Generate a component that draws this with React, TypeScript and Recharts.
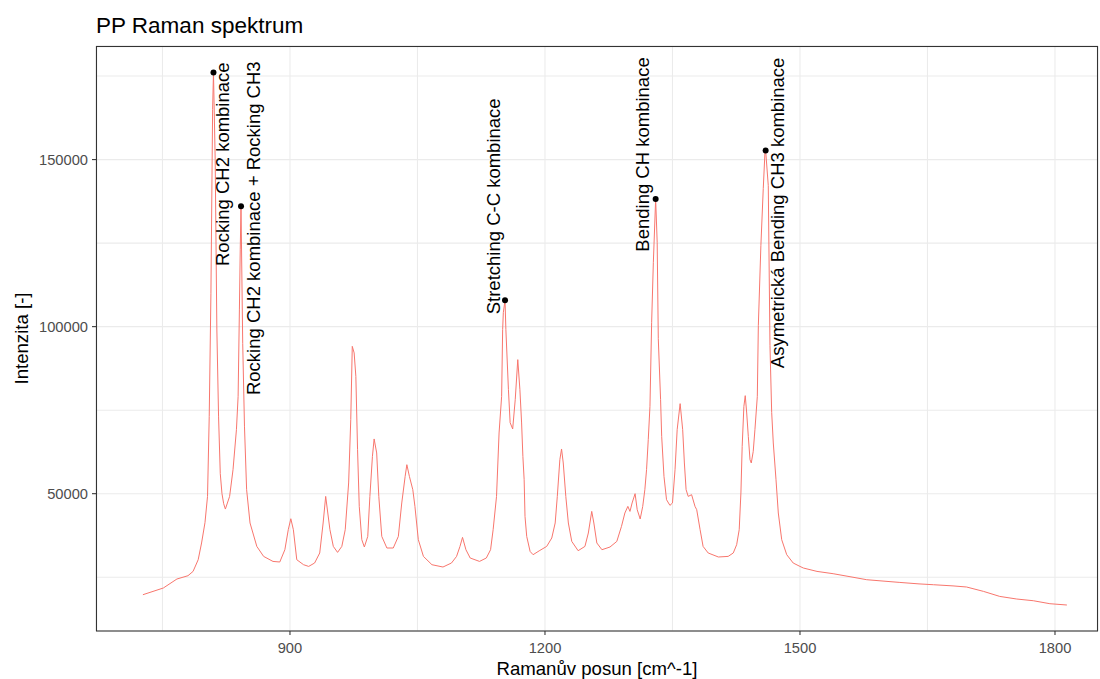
import { ComposedChart, Line, Scatter, XAxis, YAxis, CartesianGrid } from 'recharts'

// spectrum (Raman shift cm^-1 / intensity)
const shift = [
  727, 751, 767, 780, 786, 792, 796, 800, 803, 805, 807, 809, 810, 812, 814, 816, 818, 820, 822, 824,
  829, 833, 837, 839, 840.5, 841.5, 842.4, 844.4, 846.5, 849, 853, 861, 869, 880, 888, 894, 898, 901,
  904, 908, 916, 922, 929, 935, 939, 942, 947, 951, 956, 961, 965, 969, 971.5, 973.3, 975.5, 977.5,
  979.5, 981.5, 984.5, 987.5, 991.5, 994, 997, 999, 1002, 1004.5, 1008, 1014, 1021.5, 1027.5, 1031.5,
  1035.5, 1037.5, 1040.5, 1044.5, 1047, 1051, 1057, 1067, 1080, 1090, 1096, 1100, 1103, 1107, 1112,
  1123, 1131, 1136, 1139, 1143, 1146, 1149, 1150.2, 1151, 1153, 1154, 1157, 1159, 1162, 1165, 1168,
  1170.5, 1172.5, 1174, 1175.5, 1176.5, 1178.5, 1182.5, 1186, 1194, 1202, 1208, 1212, 1214.5, 1217.5,
  1219.5, 1221.5, 1224.5, 1227.5, 1231.5, 1239, 1247, 1251, 1255, 1257.5, 1261, 1267, 1276.5, 1284.5,
  1290, 1294, 1297.5, 1300, 1302.5, 1306, 1308.5, 1312, 1315, 1317.5, 1319.5, 1321.5, 1323.5, 1325.5,
  1327.5, 1330.2, 1332, 1333.3, 1336, 1337.3, 1340, 1343, 1347, 1350, 1353, 1355.5, 1359, 1362, 1364,
  1366, 1368.5, 1372.5, 1376.5, 1378.5, 1382.5, 1386, 1392, 1404, 1415.5, 1421.5, 1425.5, 1428.5,
  1430.5, 1432, 1434, 1435.6, 1437.3, 1439.2, 1441.2, 1442.7, 1445, 1447, 1449.8, 1451, 1454, 1456.8,
  1458.8, 1459.6, 1462.7, 1464.7, 1466.7, 1468.6, 1471.8, 1474.5, 1478.5, 1484.4, 1492, 1500, 1504,
  1520, 1539, 1560, 1578.5, 1600, 1617.5, 1640, 1657, 1680, 1696, 1716, 1735, 1755, 1774.5, 1794, 1814,
]
const intensity = [
  19760, 21770, 24460, 25450, 26740, 30240, 35240, 41320, 49190, 73140, 110000, 165000, 176100, 150000,
  99000, 73000, 56000, 50000, 47000, 45400, 49190, 57190, 69160, 79130, 105000, 123000, 136000, 95000,
  70000, 51200, 41230, 34220, 31230, 29730, 29550, 33230, 39220, 42500, 39220, 30240, 28740, 28230,
  29250, 32250, 41230, 49190, 39220, 34220, 32430, 34220, 39220, 53200, 72160, 94100, 92130, 85120,
  63170, 46200, 36230, 34040, 37220, 49190, 61170, 66380, 62190, 49190, 37220, 33740, 33740, 37220,
  47220, 55180, 58680, 55180, 51200, 46200, 36230, 31230, 28740, 28050, 29250, 31230, 34220, 36920,
  33230, 30750, 29730, 30750, 33230, 39220, 49190, 68170, 79130, 99100, 104190, 107870, 99100, 81140,
  71260, 69370, 78140, 90120, 81140, 71170, 61170, 54190, 43200, 37220, 32720, 31740, 33020, 34220,
  36740, 41230, 49190, 60180, 63380, 59190, 49190, 41230, 35720, 32930, 34220, 38230, 44700, 41230,
  35240, 33230, 34040, 35720, 40210, 44220, 46200, 44700, 47220, 50000, 45210, 42430, 46200, 51200,
  57190, 66170, 76140, 101290, 119250, 138230, 125240, 96410, 78140, 67160, 55180, 48200, 46500, 47220,
  57190, 69160, 76950, 69160, 59190, 51200, 49190, 49700, 46200, 45210, 39220, 34220, 32250, 31050,
  31230, 32250, 34730, 39220, 50210, 64160, 76140, 79340, 74160, 67160, 60180, 59190, 62660, 69160,
  79130, 100300, 124250, 141320, 152190, 152690, 142220, 94310, 74340, 65180, 54190, 44220, 36230,
  31740, 29250, 28230, 27750, 26740, 26050, 25100, 24250, 23800, 23440, 23000, 22750, 22400, 22070,
  20750, 19250, 18470, 17960, 17070, 16680,
]

// labelled peaks
const peakShift = [810, 842.4, 1153, 1330.2, 1459.6]
const peakIntensity = [176100, 136000, 107870, 138230, 152690]
const peakLabels = [
  'Rocking CH2 kombinace',
  'Rocking CH2 kombinace + Rocking CH3',
  'Stretching C-C kombinace',
  'Bending CH kombinace',
  'Asymetrická Bending CH3 kombinace',
]

const xMajor = [900, 1200, 1500, 1800]
const xMinor = [750, 1050, 1350, 1650]
const yMajor = [50000, 100000, 150000]
const yMinor = [25000, 75000, 125000, 175000]

// label placement relative to the peak point, in px
const labelDx = [16, 18.5, -5.5, -7, 18.5]
const labelDy = [-10, -145, -202, -141.6, -93]

const FONT = '"Liberation Sans", Arial, sans-serif'
const TICK_SIZE = 4
const TICK_MARGIN_X = 8
const TICK_MARGIN_Y = 4

const spectrum = shift.map((x, i) => ({ x, y: intensity[i] }))
const peaks = peakShift.map((x, i) => ({ x, y: peakIntensity[i], i }))
const xTicks = [...xMajor, ...xMinor].sort((a, b) => a - b)
const yTicks = [...yMajor, ...yMinor].sort((a, b) => a - b)

function XTick({ x, y, payload }: any) {
  if (!xMajor.includes(payload.value)) return null
  return (
    <g>
      <line x1={x} x2={x} y1={y - TICK_MARGIN_X - TICK_SIZE} y2={y - TICK_MARGIN_X} stroke="#333333" strokeWidth={1.07} />
      <text x={x} y={y} dy="0.71em" textAnchor="middle" fill="#4d4d4d" fontSize={14.7} fontFamily={FONT}>
        {payload.value}
      </text>
    </g>
  )
}

function YTick({ x, y, payload }: any) {
  if (!yMajor.includes(payload.value)) return null
  return (
    <g>
      <line x1={x + TICK_MARGIN_Y} x2={x + TICK_MARGIN_Y + TICK_SIZE} y1={y} y2={y} stroke="#333333" strokeWidth={1.07} />
      <text x={x} y={y} dy="0.355em" textAnchor="end" fill="#4d4d4d" fontSize={14.7} fontFamily={FONT}>
        {payload.value}
      </text>
    </g>
  )
}

function PeakMark({ cx, cy, payload }: any) {
  const i = payload.i
  const tx = cx + labelDx[i]
  const ty = cy + labelDy[i]
  return (
    <g>
      <circle cx={cx} cy={cy} r={3} fill="#000" />
      <text
        x={tx}
        y={ty}
        textAnchor="end"
        transform={`rotate(-90, ${tx}, ${ty})`}
        fill="#000"
        fontSize={18.5}
        fontFamily={FONT}
      >
        {peakLabels[i]}
      </text>
    </g>
  )
}

export default function App() {
  return (
    <div style={{ position: 'absolute', top: 0, left: 0, width: 1100, height: 679, background: '#fff' }}>
      <ComposedChart width={1100} height={679} margin={{ top: 46, right: 2, bottom: 0, left: 0 }}>
        <CartesianGrid stroke="#ebebeb" strokeWidth={1.07} />
        <XAxis
          type="number"
          dataKey="x"
          domain={[671.8, 1850.6]}
          allowDataOverflow
          ticks={xTicks}
          interval={0}
          height={48}
          tickSize={TICK_SIZE}
          tickMargin={TICK_MARGIN_X}
          tickLine={false}
          axisLine={false}
          tick={<XTick />}
        />
        <YAxis
          type="number"
          domain={[8900, 184000]}
          allowDataOverflow
          ticks={yTicks}
          interval={0}
          width={96}
          tickSize={TICK_SIZE}
          tickMargin={TICK_MARGIN_Y}
          tickLine={false}
          axisLine={false}
          tick={<YTick />}
        />
        <Line
          data={spectrum}
          dataKey="y"
          type="linear"
          stroke="#F8766D"
          strokeWidth={1}
          dot={false}
          activeDot={false}
          isAnimationActive={false}
        />
        <Scatter data={peaks} dataKey="y" shape={<PeakMark />} isAnimationActive={false} />
      </ComposedChart>
      <svg
        width={1100}
        height={679}
        style={{ position: 'absolute', top: 0, left: 0, pointerEvents: 'none' }}
        fontFamily={FONT}
      >
        <rect x={96.5} y={46.5} width={1001} height={584.5} fill="none" stroke="#333333" strokeWidth={1.07} />
        <text x={96} y={32.5} fontSize={22.5} fill="#000">
          PP Raman spektrum
        </text>
        <text x={597} y={675} fontSize={18.6} fill="#000" textAnchor="middle">
          Ramanův posun [cm^-1]
        </text>
        <text x={28} y={338.5} fontSize={18.6} fill="#000" textAnchor="middle" transform="rotate(-90, 28, 338.5)">
          Intenzita [-]
        </text>
      </svg>
    </div>
  )
}
